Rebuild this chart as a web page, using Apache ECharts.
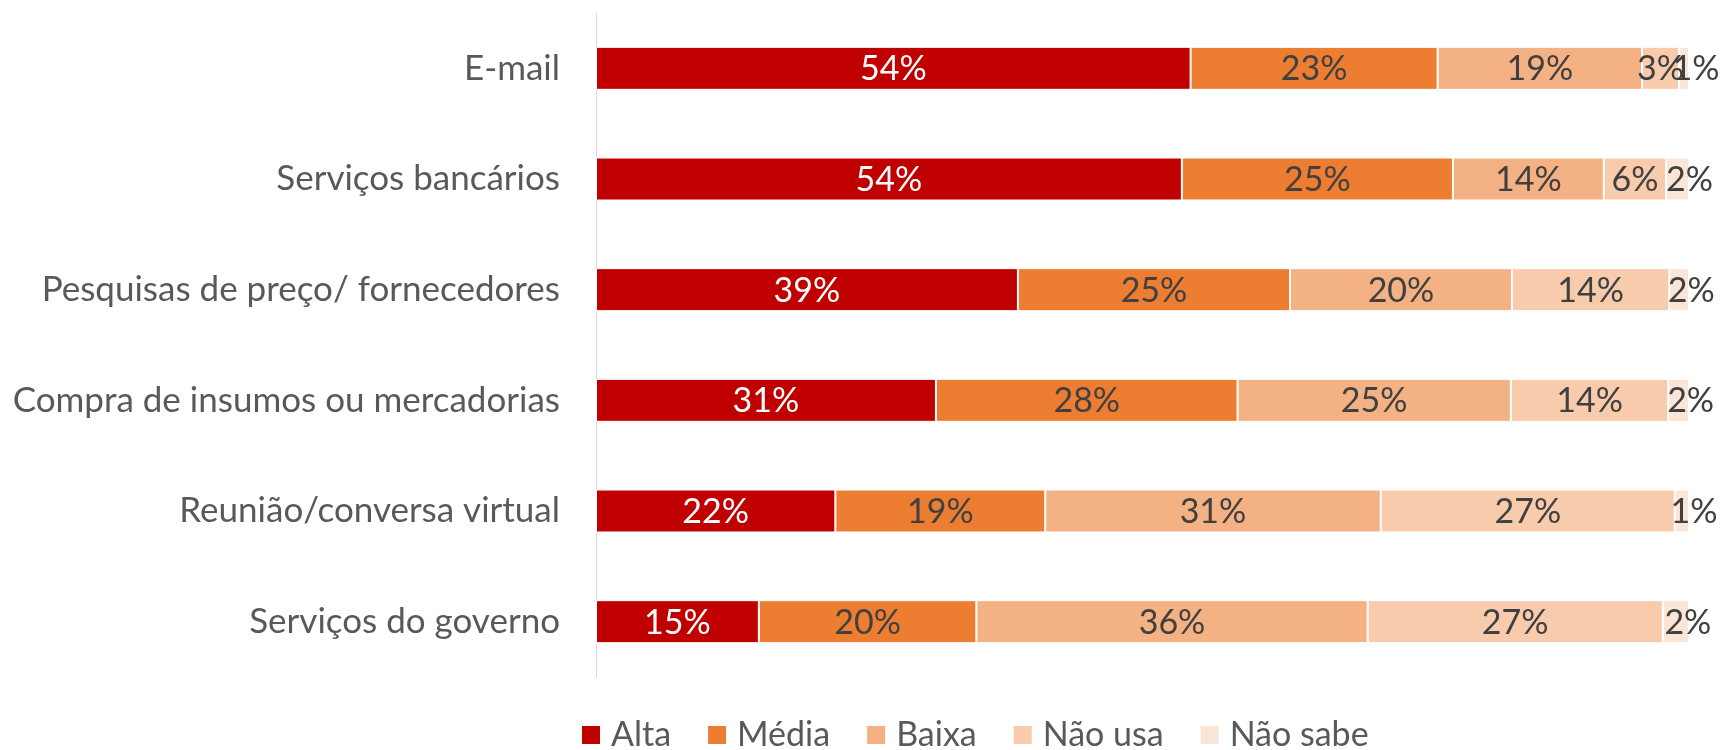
<!DOCTYPE html>
<html>
<head>
<meta charset="utf-8">
<script src="https://cdn.jsdelivr.net/npm/echarts@6/dist/echarts.min.js"></script>
<style>
  html, body { margin: 0; padding: 0; background: #fff; }
  #chart { width: 1726px; height: 750px; }
</style>
</head>
<body>
<div id="chart"></div>
<script>
// categories, top to bottom
var categories = [
  "E-mail",
  "Serviços bancários",
  "Pesquisas de preço/ fornecedores",
  "Compra de insumos ou mercadorias",
  "Reunião/conversa virtual",
  "Serviços do governo"
];
var seriesNames = ["Alta", "Média", "Baixa", "Não usa", "Não sabe"];
var alta    = [54.4, 53.6, 38.6, 31.1, 21.9, 14.9];
var media   = [22.6, 24.8, 24.9, 27.6, 19.2, 19.9];
var baixa   = [18.7, 13.8, 20.3, 25.0, 30.7, 35.8];
var naoUsa  = [3.4, 5.7, 14.4, 14.4, 26.9, 27.0];
var naoSabe = [0.9, 2.1, 1.8, 1.9, 1.3, 2.4];

var colors = ["#C00000", "#ED7D31", "#F4B183", "#F8CBAD", "#FBE5D6"];
var labelColors = ["#ffffff", "#404040", "#404040", "#404040", "#404040"];
var FONT = "Lato, 'Liberation Sans', sans-serif";

var values = [alta, media, baixa, naoUsa, naoSabe];

var chart = echarts.init(document.getElementById("chart"));

var series = values.map(function (data, i) {
  return {
    name: seriesNames[i],
    type: "bar",
    stack: "total",
    barWidth: 43,
    data: data,
    itemStyle: {
      color: colors[i],
      borderColor: "#ffffff",
      borderWidth: 1
    },
    label: {
      show: true,
      position: "inside",
      offset: i === 4 ? [12, 1] : [0, 1],
      color: labelColors[i],
      fontFamily: FONT,
      fontSize: 34,
      formatter: function (p) {
        return Math.round(p.value) + "%";
      }
    },
    emphasis: { disabled: true }
  };
});

chart.setOption({
  animation: false,
  color: colors,
  grid: {
    left: 596,
    right: 37,
    top: 13,
    bottom: 73,
    containLabel: false
  },
  legend: {
    data: seriesNames,
    left: 580,
    top: 716,
    padding: 0,
    icon: "rect",
    itemWidth: 20,
    itemHeight: 20,
    itemGap: 35,
    textStyle: {
      color: "#595959",
      fontFamily: FONT,
      fontSize: 34,
      lineHeight: 38,
      padding: [0, 0, 0, 5]
    }
  },
  xAxis: {
    type: "value",
    min: 0,
    max: 100,
    show: false
  },
  yAxis: {
    type: "category",
    data: categories,
    inverse: true,
    axisLine: {
      show: true,
      lineStyle: { color: "#d9d9d9", width: 1 }
    },
    axisTick: { show: false },
    axisLabel: {
      color: "#595959",
      fontFamily: FONT,
      fontSize: 35,
      margin: 36
    }
  },
  series: series
});
</script>
</body>
</html>
